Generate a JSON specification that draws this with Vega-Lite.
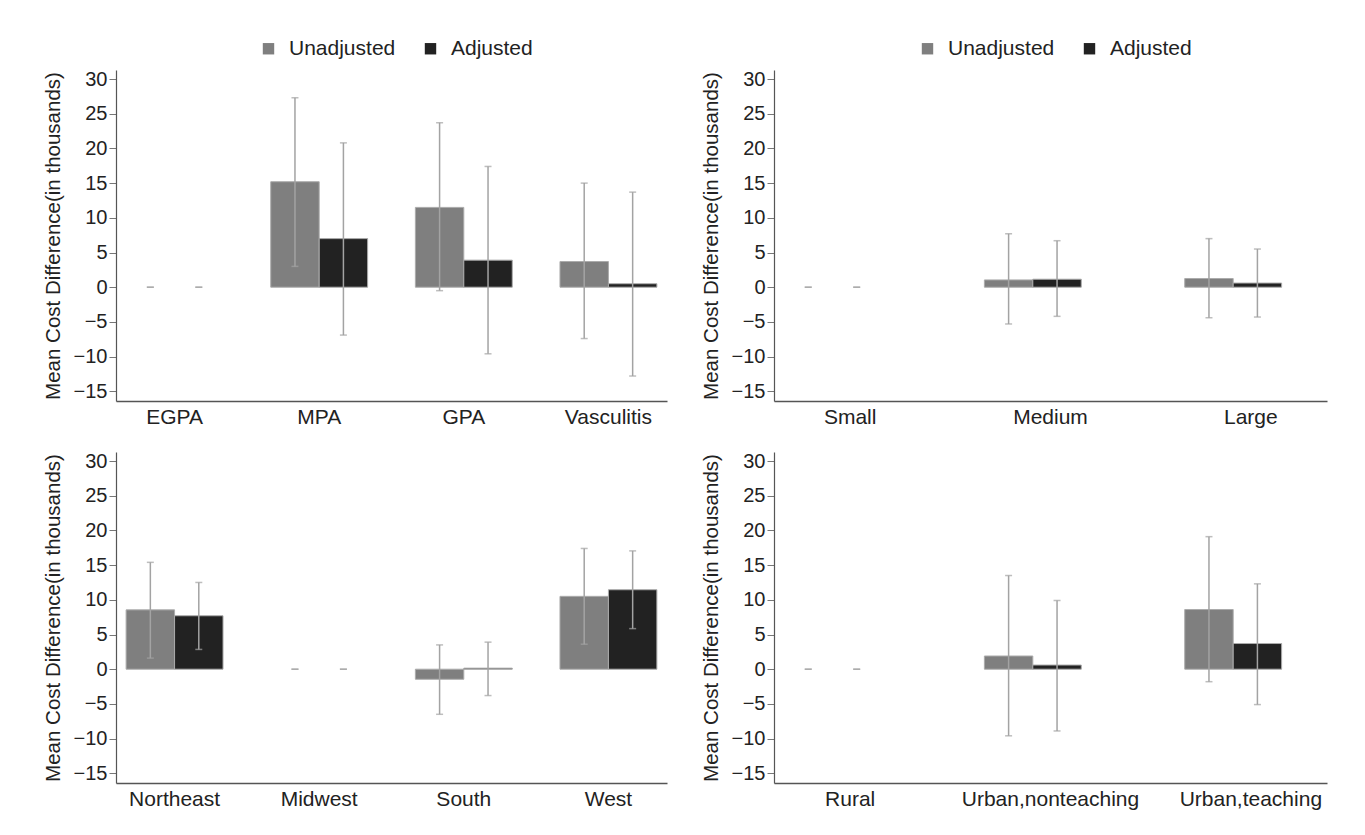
{
  "$schema": "https://vega.github.io/schema/vega-lite/v6.json",
  "background": "white",
  "padding": {"left": 43, "top": 38, "right": 5, "bottom": 5},
  "datasets": {
    "disease": [
      {"category": "EGPA", "group": "Unadjusted", "value": 0, "lower": 0, "upper": 0},
      {"category": "EGPA", "group": "Adjusted", "value": 0, "lower": 0, "upper": 0},
      {"category": "MPA", "group": "Unadjusted", "value": 15.2, "lower": 3.0, "upper": 27.3},
      {"category": "MPA", "group": "Adjusted", "value": 7.0, "lower": -6.9, "upper": 20.8},
      {"category": "GPA", "group": "Unadjusted", "value": 11.5, "lower": -0.5, "upper": 23.7},
      {"category": "GPA", "group": "Adjusted", "value": 3.9, "lower": -9.6, "upper": 17.4},
      {"category": "Vasculitis", "group": "Unadjusted", "value": 3.7, "lower": -7.4, "upper": 15.0},
      {"category": "Vasculitis", "group": "Adjusted", "value": 0.5, "lower": -12.8, "upper": 13.7}
    ],
    "size": [
      {"category": "Small", "group": "Unadjusted", "value": 0, "lower": 0, "upper": 0},
      {"category": "Small", "group": "Adjusted", "value": 0, "lower": 0, "upper": 0},
      {"category": "Medium", "group": "Unadjusted", "value": 1.05, "lower": -5.3, "upper": 7.7},
      {"category": "Medium", "group": "Adjusted", "value": 1.15, "lower": -4.2, "upper": 6.7},
      {"category": "Large", "group": "Unadjusted", "value": 1.25, "lower": -4.4, "upper": 7.0},
      {"category": "Large", "group": "Adjusted", "value": 0.6, "lower": -4.3, "upper": 5.5}
    ],
    "region": [
      {"category": "Northeast", "group": "Unadjusted", "value": 8.55, "lower": 1.6, "upper": 15.4},
      {"category": "Northeast", "group": "Adjusted", "value": 7.7, "lower": 2.85, "upper": 12.5},
      {"category": "Midwest", "group": "Unadjusted", "value": 0, "lower": 0, "upper": 0},
      {"category": "Midwest", "group": "Adjusted", "value": 0, "lower": 0, "upper": 0},
      {"category": "South", "group": "Unadjusted", "value": -1.45, "lower": -6.5, "upper": 3.5},
      {"category": "South", "group": "Adjusted", "value": 0.15, "lower": -3.8, "upper": 3.9},
      {"category": "West", "group": "Unadjusted", "value": 10.5, "lower": 3.6, "upper": 17.4},
      {"category": "West", "group": "Adjusted", "value": 11.45, "lower": 5.85, "upper": 17.05}
    ],
    "location": [
      {"category": "Rural", "group": "Unadjusted", "value": 0, "lower": 0, "upper": 0},
      {"category": "Rural", "group": "Adjusted", "value": 0, "lower": 0, "upper": 0},
      {"category": "Urban,nonteaching", "group": "Unadjusted", "value": 1.9, "lower": -9.6, "upper": 13.5},
      {"category": "Urban,nonteaching", "group": "Adjusted", "value": 0.6, "lower": -8.9, "upper": 9.9},
      {"category": "Urban,teaching", "group": "Unadjusted", "value": 8.6, "lower": -1.8, "upper": 19.1},
      {"category": "Urban,teaching", "group": "Adjusted", "value": 3.7, "lower": -5.1, "upper": 12.3}
    ]
  },
  "spacing": 24,
  "resolve": {"legend": {"color": "independent"}},
  "vconcat": [
    {
      "spacing": 34,
      "resolve": {"legend": {"color": "independent"}},
      "hconcat": [
        {
          "width": 551, "height": 331,
          "data": {"name": "disease"},
          "encoding": {
            "x": {"field": "category", "type": "nominal", "sort": ["EGPA", "MPA", "GPA", "Vasculitis"], "title": null,
                  "scale": {"paddingInner": 0.33, "paddingOuter": 0.07}},
            "xOffset": {"field": "group", "type": "nominal", "sort": ["Unadjusted", "Adjusted"], "scale": {"paddingInner": 0, "paddingOuter": 0}}
          },
          "layer": [
            {
              "transform": [{"filter": "datum.value != 0"}],
              "mark": {"type": "bar", "stroke": "#ababab", "strokeWidth": 1},
              "encoding": {
                "y": {"field": "value", "type": "quantitative", "title": "Mean Cost Difference(in thousands)",
                      "scale": {"domain": [-16.4, 31.3], "nice": false, "zero": false}},
                "color": {"field": "group", "type": "nominal", "sort": ["Unadjusted", "Adjusted"],
                          "scale": {"domain": ["Unadjusted", "Adjusted"], "range": ["#7f7f7f", "#222222"]},
                          "legend": {"title": null, "orient": "none", "legendX": 142, "legendY": -32, "direction": "horizontal"}}
              }
            },
            {"mark": {"type": "rule", "color": "#a3a3a3", "strokeWidth": 1.5},
             "encoding": {"y": {"field": "lower", "type": "quantitative", "title": "Mean Cost Difference(in thousands)"}, "y2": {"field": "upper"}}},
            {"mark": {"type": "tick", "color": "#a3a3a3", "size": 7, "thickness": 1.5},
             "encoding": {"y": {"field": "lower", "type": "quantitative", "title": "Mean Cost Difference(in thousands)"}}},
            {"mark": {"type": "tick", "color": "#a3a3a3", "size": 7, "thickness": 1.5},
             "encoding": {"y": {"field": "upper", "type": "quantitative", "title": "Mean Cost Difference(in thousands)"}}}
          ]
        },
        {
          "width": 553, "height": 331,
          "data": {"name": "size"},
          "encoding": {
            "x": {"field": "category", "type": "nominal", "sort": ["Small", "Medium", "Large"], "title": null,
                  "scale": {"paddingInner": 0.34, "paddingOuter": 0.05}},
            "xOffset": {"field": "group", "type": "nominal", "sort": ["Unadjusted", "Adjusted"], "scale": {"paddingInner": 0, "paddingOuter": 0}}
          },
          "layer": [
            {
              "transform": [{"filter": "datum.value != 0"}],
              "mark": {"type": "bar", "stroke": "#ababab", "strokeWidth": 1},
              "encoding": {
                "y": {"field": "value", "type": "quantitative", "title": "Mean Cost Difference(in thousands)",
                      "scale": {"domain": [-16.4, 31.3], "nice": false, "zero": false}},
                "color": {"field": "group", "type": "nominal", "sort": ["Unadjusted", "Adjusted"],
                          "scale": {"domain": ["Unadjusted", "Adjusted"], "range": ["#7f7f7f", "#222222"]},
                          "legend": {"title": null, "orient": "none", "legendX": 143, "legendY": -32, "direction": "horizontal"}}
              }
            },
            {"mark": {"type": "rule", "color": "#a3a3a3", "strokeWidth": 1.5},
             "encoding": {"y": {"field": "lower", "type": "quantitative", "title": "Mean Cost Difference(in thousands)"}, "y2": {"field": "upper"}}},
            {"mark": {"type": "tick", "color": "#a3a3a3", "size": 7, "thickness": 1.5},
             "encoding": {"y": {"field": "lower", "type": "quantitative", "title": "Mean Cost Difference(in thousands)"}}},
            {"mark": {"type": "tick", "color": "#a3a3a3", "size": 7, "thickness": 1.5},
             "encoding": {"y": {"field": "upper", "type": "quantitative", "title": "Mean Cost Difference(in thousands)"}}}
          ]
        }
      ]
    },
    {
      "spacing": 34,
      "hconcat": [
        {
          "width": 551, "height": 331,
          "data": {"name": "region"},
          "encoding": {
            "x": {"field": "category", "type": "nominal", "sort": ["Northeast", "Midwest", "South", "West"], "title": null,
                  "scale": {"paddingInner": 0.33, "paddingOuter": 0.07}},
            "xOffset": {"field": "group", "type": "nominal", "sort": ["Unadjusted", "Adjusted"], "scale": {"paddingInner": 0, "paddingOuter": 0}}
          },
          "layer": [
            {
              "transform": [{"filter": "datum.value != 0"}],
              "mark": {"type": "bar", "stroke": "#ababab", "strokeWidth": 1},
              "encoding": {
                "y": {"field": "value", "type": "quantitative", "title": "Mean Cost Difference(in thousands)",
                      "scale": {"domain": [-16.4, 31.3], "nice": false, "zero": false}},
                "color": {"field": "group", "type": "nominal", "sort": ["Unadjusted", "Adjusted"],
                          "scale": {"domain": ["Unadjusted", "Adjusted"], "range": ["#7f7f7f", "#222222"]},
                          "legend": null}
              }
            },
            {"mark": {"type": "rule", "color": "#a3a3a3", "strokeWidth": 1.5},
             "encoding": {"y": {"field": "lower", "type": "quantitative", "title": "Mean Cost Difference(in thousands)"}, "y2": {"field": "upper"}}},
            {"mark": {"type": "tick", "color": "#a3a3a3", "size": 7, "thickness": 1.5},
             "encoding": {"y": {"field": "lower", "type": "quantitative", "title": "Mean Cost Difference(in thousands)"}}},
            {"mark": {"type": "tick", "color": "#a3a3a3", "size": 7, "thickness": 1.5},
             "encoding": {"y": {"field": "upper", "type": "quantitative", "title": "Mean Cost Difference(in thousands)"}}}
          ]
        },
        {
          "width": 553, "height": 331,
          "data": {"name": "location"},
          "encoding": {
            "x": {"field": "category", "type": "nominal", "sort": ["Rural", "Urban,nonteaching", "Urban,teaching"], "title": null,
                  "scale": {"paddingInner": 0.34, "paddingOuter": 0.05}},
            "xOffset": {"field": "group", "type": "nominal", "sort": ["Unadjusted", "Adjusted"], "scale": {"paddingInner": 0, "paddingOuter": 0}}
          },
          "layer": [
            {
              "transform": [{"filter": "datum.value != 0"}],
              "mark": {"type": "bar", "stroke": "#ababab", "strokeWidth": 1},
              "encoding": {
                "y": {"field": "value", "type": "quantitative", "title": "Mean Cost Difference(in thousands)",
                      "scale": {"domain": [-16.4, 31.3], "nice": false, "zero": false}},
                "color": {"field": "group", "type": "nominal", "sort": ["Unadjusted", "Adjusted"],
                          "scale": {"domain": ["Unadjusted", "Adjusted"], "range": ["#7f7f7f", "#222222"]},
                          "legend": null}
              }
            },
            {"mark": {"type": "rule", "color": "#a3a3a3", "strokeWidth": 1.5},
             "encoding": {"y": {"field": "lower", "type": "quantitative", "title": "Mean Cost Difference(in thousands)"}, "y2": {"field": "upper"}}},
            {"mark": {"type": "tick", "color": "#a3a3a3", "size": 7, "thickness": 1.5},
             "encoding": {"y": {"field": "lower", "type": "quantitative", "title": "Mean Cost Difference(in thousands)"}}},
            {"mark": {"type": "tick", "color": "#a3a3a3", "size": 7, "thickness": 1.5},
             "encoding": {"y": {"field": "upper", "type": "quantitative", "title": "Mean Cost Difference(in thousands)"}}}
          ]
        }
      ]
    }
  ],
  "config": {
    "view": {"stroke": null},
    "font": "Liberation Sans",
    "axisY": {
      "values": [-15, -10, -5, 0, 5, 10, 15, 20, 25, 30],
      "grid": false,
      "domainColor": "#555555", "domainWidth": 1.2,
      "tickColor": "#777777", "tickSize": 7, "tickWidth": 1,
      "labelFont": "Liberation Sans", "labelFontSize": 20, "labelColor": "#222222", "labelPadding": 2,
      "titleFont": "Liberation Sans", "titleFontSize": 20.5, "titleFontWeight": "normal", "titleColor": "#222222", "titlePadding": 10
    },
    "axisX": {
      "grid": false, "ticks": false,
      "domainColor": "#555555", "domainWidth": 1.5,
      "labelFont": "Liberation Sans", "labelFontSize": 21, "labelColor": "#222222", "labelPadding": 5, "labelAngle": 0
    },
    "legend": {
      "labelFont": "Liberation Sans", "labelFontSize": 21, "labelColor": "#222222",
      "symbolType": "square", "symbolSize": 130, "symbolStrokeWidth": 0,
      "labelOffset": 10, "columnPadding": 24
    }
  }
}
